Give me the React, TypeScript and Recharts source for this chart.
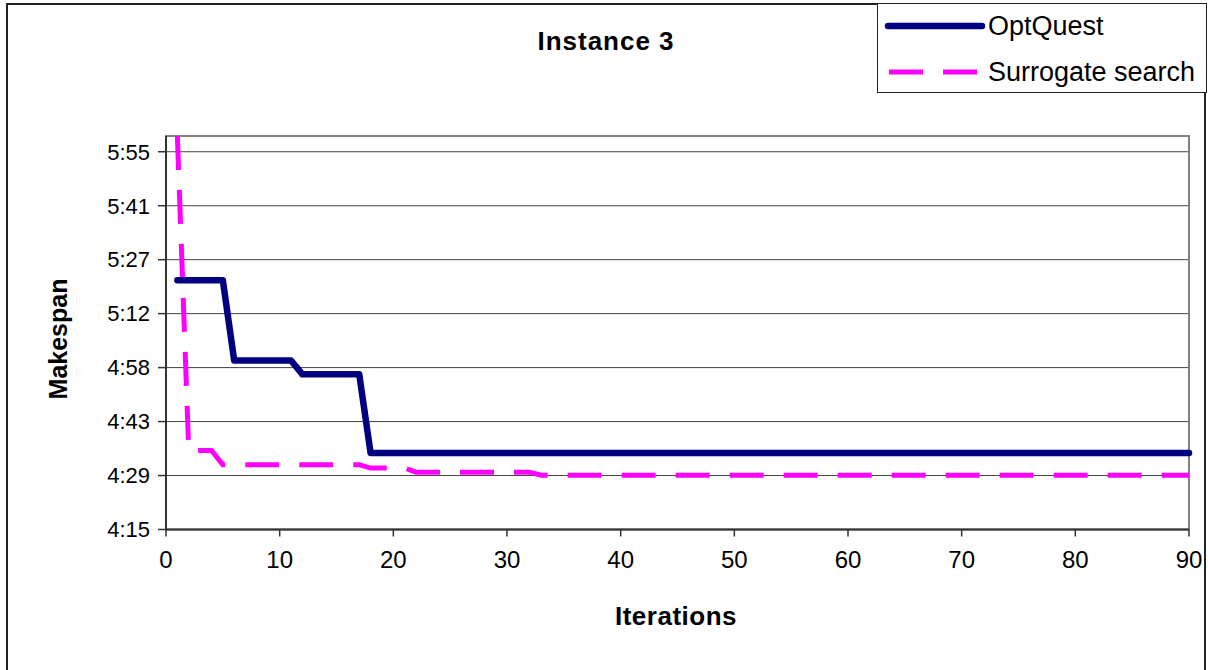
import { CartesianGrid, Line, LineChart, ReferenceArea, XAxis, YAxis } from 'recharts'

// iteration numbers where each series changes, and its makespan (minutes)
const optIter = [1, 5, 6, 11, 12, 17, 18, 90]
const optMin = [321.5, 321.5, 300.1, 300.1, 296.4, 296.4, 275.4, 275.4]

const surIter = [1, 2, 4, 5, 17, 18, 21, 22, 32, 33, 90]
const surMin = [360, 276.1, 276.1, 272.3, 272.3, 271.4, 271.4, 270.3, 270.3, 269.5, 269.5]

const xTicks = [0, 10, 20, 30, 40, 50, 60, 70, 80, 90]
const yTicks = [255, 269.4, 283.8, 298.2, 312.6, 327, 341.4, 355.8]
const yTickLabels = ['4:15', '4:29', '4:43', '4:58', '5:12', '5:27', '5:41', '5:55']

const optData = optIter.map((x, i) => ({ x, v: optMin[i] }))
const surData = surIter.map((x, i) => ({ x, v: surMin[i] }))

const font = '"Liberation Sans", Arial, sans-serif'
const NAVY = '#000080'
const MAGENTA = '#ff00ff'

export default function App() {
  return (
    <div
      style={{
        position: 'absolute',
        left: 0,
        top: 0,
        width: 1208,
        height: 670,
        background: '#fff',
        overflow: 'hidden',
        fontFamily: font,
      }}
    >
      <div
        style={{
          position: 'absolute',
          left: 6,
          top: 3,
          width: 1196,
          height: 700,
          border: '2px solid #222',
        }}
      />
      <div
        style={{
          position: 'absolute',
          left: 0,
          width: 1212,
          top: 24,
          textAlign: 'center',
          fontWeight: 'bold',
          fontSize: 26,
          letterSpacing: 1,
          lineHeight: '34px',
        }}
      >
        Instance 3
      </div>

      <LineChart
        width={1208}
        height={670}
        margin={{ top: 136, right: 19, left: 0, bottom: 100.5 }}
        style={{ position: 'absolute', left: 0, top: 0 }}
      >
        <ReferenceArea x1={0} x2={90} y1={255} y2={360} fill="none" stroke="#808080" strokeWidth={2} />
        <CartesianGrid vertical={false} stroke="#444" strokeWidth={1} />
        <XAxis
          dataKey="x"
          type="number"
          domain={[0, 90]}
          ticks={xTicks}
          allowDuplicatedCategory={false}
          height={40}
          tickSize={7}
          tickMargin={14}
          axisLine={{ stroke: '#333', strokeWidth: 2 }}
          tickLine={{ stroke: '#333', strokeWidth: 1.5 }}
          tick={{ fontSize: 24, fill: '#000', fontFamily: font }}
        />
        <YAxis
          type="number"
          domain={[255, 360]}
          ticks={yTicks}
          width={166}
          tickSize={8}
          tickMargin={8}
          axisLine={{ stroke: '#333', strokeWidth: 2 }}
          tickLine={{ stroke: '#333', strokeWidth: 1.5 }}
          tick={{ fontSize: 22, fill: '#000', fontFamily: font }}
          tickFormatter={(v: number) => yTickLabels[yTicks.indexOf(v)] ?? ''}
        />
        <Line
          data={surData}
          dataKey="v"
          type="linear"
          stroke={MAGENTA}
          strokeWidth={5}
          strokeDasharray="34 20"
          dot={false}
          activeDot={false}
          isAnimationActive={false}
        />
        <Line
          data={optData}
          dataKey="v"
          type="linear"
          stroke={NAVY}
          strokeWidth={6.5}
          strokeLinejoin="round"
          strokeLinecap="round"
          dot={false}
          activeDot={false}
          isAnimationActive={false}
        />
      </LineChart>

      <div
        style={{
          position: 'absolute',
          left: 58,
          top: 339,
          transform: 'translate(-50%, -50%) rotate(-90deg)',
          fontWeight: 'bold',
          fontSize: 25,
          whiteSpace: 'nowrap',
        }}
      >
        Makespan
      </div>
      <div
        style={{
          position: 'absolute',
          left: 676,
          top: 616,
          transform: 'translate(-50%, -50%)',
          fontWeight: 'bold',
          fontSize: 26,
          letterSpacing: 0.5,
          whiteSpace: 'nowrap',
        }}
      >
        Iterations
      </div>

      <div
        style={{
          position: 'absolute',
          left: 877,
          top: 3,
          width: 328,
          height: 88,
          border: '1.5px solid #222',
          background: '#fff',
          fontSize: 27,
        }}
      >
        <svg width={110} height={90} style={{ position: 'absolute', left: 0, top: 0 }}>
          <line x1={10} y1={22} x2={104} y2={22} stroke={NAVY} strokeWidth={6.5} strokeLinecap="round" />
          <line x1={11} y1={68} x2={100} y2={68} stroke={MAGENTA} strokeWidth={5} strokeDasharray="34 20" />
        </svg>
        <div style={{ position: 'absolute', left: 110, top: 5, lineHeight: '34px' }}>OptQuest</div>
        <div style={{ position: 'absolute', left: 110, top: 51, lineHeight: '34px' }}>Surrogate search</div>
      </div>
    </div>
  )
}
